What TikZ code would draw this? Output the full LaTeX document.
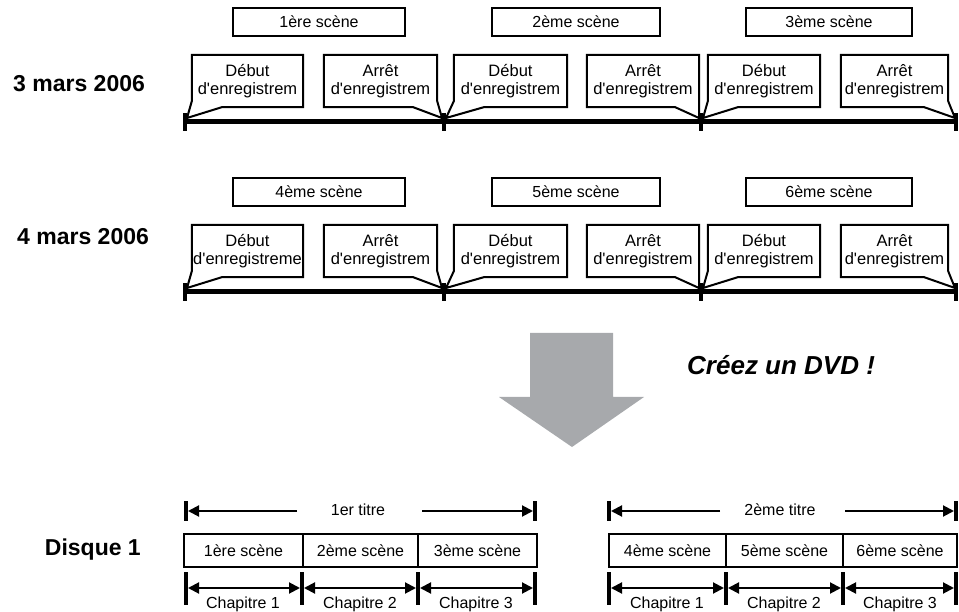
\documentclass[tikz,border=0pt]{standalone}
\usepackage{fontspec}
\setmainfont{Liberation Sans}[Ligatures=TeXOff]
\usetikzlibrary{arrows.meta,calc}
\definecolor{arrowgray}{HTML}{A7A9AC}
\newcommand\calloutL[2]{\draw[callline] (#1.north west) -- (#1.north east) -- (#1.south east) -- ([xshift=30pt]#1.south west) -- (#2) -- ([yshift=6pt]#1.south west) -- cycle;}
\newcommand\calloutR[2]{\draw[callline] (#1.north west) -- (#1.north east) -- ([yshift=6pt]#1.south east) -- (#2) -- ([xshift=-24pt]#1.south east) -- (#1.south west) -- cycle;}
\begin{document}
\begin{tikzpicture}[x=1pt,y=-1pt,
  txt/.style={font=\fontsize{16}{17}\selectfont},
  scenebox/.style={txt, draw, line width=1.4pt, minimum height=28pt, inner sep=0pt},
  callbox/.style={font=\fontsize{16.5}{17.5}\selectfont, inner sep=0pt, minimum height=52pt, align=center},
  callline/.style={line width=2pt, line join=miter},
  timeline/.style={line width=5pt},
  tickmark/.style={line width=4pt},
  datelabel/.style={font=\bfseries\fontsize{23}{26}\selectfont, inner sep=0pt},
  rowbox/.style={txt, draw, line width=1.4pt, minimum height=33pt, inner sep=0pt},
  bar/.style={line width=4pt},
  titlearrow/.style={line width=2pt, -{Triangle[length=11pt,width=11pt]}, shorten >=2pt},
  chaparrow/.style={line width=2pt, {Triangle[length=11pt,width=11pt]}-{Triangle[length=11pt,width=11pt]}, shorten >=2pt, shorten <=2pt},
]
\useasboundingbox (0,0) rectangle (959,612);

% ---------- Row 1 ----------
\node[datelabel, anchor=base west] (date1) at (13,92) {3 mars 2006};
\node[scenebox, minimum width=172pt] (sc1) at (319,22) {1ère scène};
\node[scenebox, minimum width=168pt] (sc2) at (576,22) {2ème scène};
\node[scenebox, minimum width=166pt] (sc3) at (829,22) {3ème scène};

\coordinate (ta0) at (185,122);
\coordinate (ta1) at (444,122);
\coordinate (ta2) at (701,122);
\coordinate (ta3) at (956,122);
\draw[timeline] (ta0) -- (ta3);
\foreach \t in {ta0,ta1,ta2,ta3}{\draw[tickmark] ([yshift=9pt]\t) -- ([yshift=-9pt]\t);}

\coordinate (pa0) at (187,118);
\coordinate (pa1) at (442,118);
\coordinate (pa2) at (446,118);
\coordinate (pa3) at (699,118);
\coordinate (pa4) at (703,118);
\coordinate (pa5) at (955,118);

\node[callbox, minimum width=111pt] (ca1) at (247.5,81) {Début\\d'enregistrem};
\node[callbox, minimum width=113pt] (ca2) at (380.5,81) {Arrêt\\d'enregistrem};
\node[callbox, minimum width=113pt] (ca3) at (510.5,81) {Début\\d'enregistrem};
\node[callbox, minimum width=112pt] (ca4) at (643,81) {Arrêt\\d'enregistrem};
\node[callbox, minimum width=112pt] (ca5) at (764,81) {Début\\d'enregistrem};
\node[callbox, minimum width=107pt] (ca6) at (894.5,81) {Arrêt\\d'enregistrem};
\calloutL{ca1}{pa0}
\calloutR{ca2}{pa1}
\calloutL{ca3}{pa2}
\calloutR{ca4}{pa3}
\calloutL{ca5}{pa4}
\calloutR{ca6}{pa5}

% ---------- Row 2 ----------
\node[datelabel, anchor=base west] (date2) at (17,245) {4 mars 2006};
\node[scenebox, minimum width=172pt] (sc4) at (319,192) {4ème scène};
\node[scenebox, minimum width=168pt] (sc5) at (576,192) {5ème scène};
\node[scenebox, minimum width=166pt] (sc6) at (829,192) {6ème scène};

\coordinate (tb0) at (185,292);
\coordinate (tb1) at (444,292);
\coordinate (tb2) at (701,292);
\coordinate (tb3) at (956,292);
\draw[timeline] (tb0) -- (tb3);
\foreach \t in {tb0,tb1,tb2,tb3}{\draw[tickmark] ([yshift=9pt]\t) -- ([yshift=-9pt]\t);}

\coordinate (pb0) at (187,288);
\coordinate (pb1) at (442,288);
\coordinate (pb2) at (446,288);
\coordinate (pb3) at (699,288);
\coordinate (pb4) at (703,288);
\coordinate (pb5) at (955,288);

\node[callbox, minimum width=111pt] (cb1) at (247.5,251) {Début\\d'enregistreme};
\node[callbox, minimum width=113pt] (cb2) at (380.5,251) {Arrêt\\d'enregistrem};
\node[callbox, minimum width=113pt] (cb3) at (510.5,251) {Début\\d'enregistrem};
\node[callbox, minimum width=112pt] (cb4) at (643,251) {Arrêt\\d'enregistrem};
\node[callbox, minimum width=112pt] (cb5) at (764,251) {Début\\d'enregistrem};
\node[callbox, minimum width=107pt] (cb6) at (894.5,251) {Arrêt\\d'enregistrem};
\calloutL{cb1}{pb0}
\calloutR{cb2}{pb1}
\calloutL{cb3}{pb2}
\calloutR{cb4}{pb3}
\calloutL{cb5}{pb4}
\calloutR{cb6}{pb5}

% ---------- Big arrow ----------
\fill[arrowgray] (530,333) -- (613,333) -- (613,397) -- (644,397) -- (572,447) -- (499,397) -- (530,397) -- cycle;
\node[font=\bfseries\itshape\fontsize{26}{30}\selectfont, inner sep=0pt, anchor=base west] (dvd) at (687,375) {Créez un DVD !};

% ---------- Disque 1 ----------
\node[font=\bfseries\fontsize{23}{26}\selectfont, inner sep=0pt, anchor=base east] (disque) at (141,555) {Disque 1};

% left title
\coordinate (l0) at (186,511);
\coordinate (l1) at (535,511);
\draw[bar] (186,501) -- (186,521);
\draw[bar] (535,501) -- (535,521);
\node[txt, anchor=center] (t1) at (358,510) {1er titre};
\coordinate (l0a) at (297,511);
\coordinate (l1a) at (422,511);
\draw[titlearrow] (l0a) -- (l0);
\draw[titlearrow] (l1a) -- (l1);

\node[rowbox, minimum width=119pt] (r1) at (243.5,550.5) {1ère scène};
\node[rowbox, minimum width=115pt] (r2) at (360.5,550.5) {2ème scène};
\node[rowbox, minimum width=119pt] (r3) at (477.5,550.5) {3ème scène};

\foreach \n/\x in {c0/186,c1/302,c2/418,c3/535}{
  \coordinate (\n) at (\x,588);
  \draw[bar] (\x,572) -- (\x,605);
}
\draw[chaparrow] (c0) -- (c1);
\draw[chaparrow] (c1) -- (c2);
\draw[chaparrow] (c2) -- (c3);
\node[txt, anchor=base] (ch1) at (243,608) {Chapitre 1};
\node[txt, anchor=base] (ch2) at (360,608) {Chapitre 2};
\node[txt, anchor=base] (ch3) at (476,608) {Chapitre 3};

% right title
\coordinate (m0) at (609,511);
\coordinate (m1) at (956,511);
\draw[bar] (609,501) -- (609,521);
\draw[bar] (956,501) -- (956,521);
\node[txt, anchor=center] (t2) at (780,510) {2ème titre};
\coordinate (m0a) at (720,511);
\coordinate (m1a) at (845,511);
\draw[titlearrow] (m0a) -- (m0);
\draw[titlearrow] (m1a) -- (m1);

\node[rowbox, minimum width=117pt] (r4) at (667.5,550.5) {4ème scène};
\node[rowbox, minimum width=117pt] (r5) at (784.5,550.5) {5ème scène};
\node[rowbox, minimum width=114pt] (r6) at (900,550.5) {6ème scène};

\foreach \n/\x in {d0/609,d1/726,d2/843,d3/956}{
  \coordinate (\n) at (\x,588);
  \draw[bar] (\x,572) -- (\x,605);
}
\draw[chaparrow] (d0) -- (d1);
\draw[chaparrow] (d1) -- (d2);
\draw[chaparrow] (d2) -- (d3);
\node[txt, anchor=base] (ch4) at (667,608) {Chapitre 1};
\node[txt, anchor=base] (ch5) at (784,608) {Chapitre 2};
\node[txt, anchor=base] (ch6) at (900,608) {Chapitre 3};
\end{tikzpicture}
\end{document}
